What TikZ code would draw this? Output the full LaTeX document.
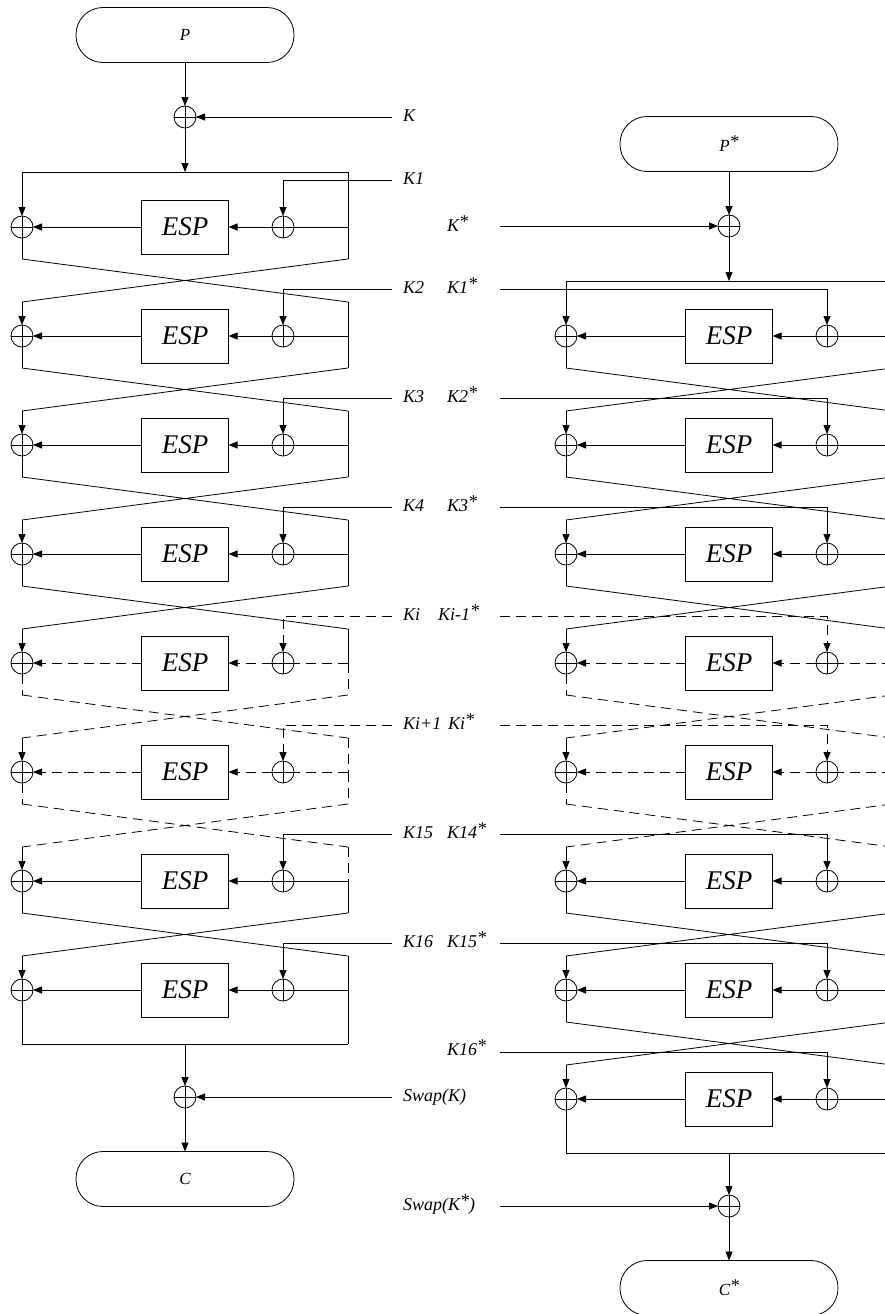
\documentclass[tikz,border=0pt]{standalone}
\usepackage{fontspec}
\setmainfont{Liberation Serif}
\usetikzlibrary{arrows.meta}
\newcommand{\st}{\raisebox{4pt}{\fontsize{18}{18}\selectfont *}}
\tikzset{
  ln/.style={line width=0.8pt},
  arr/.style={line width=0.8pt,-{Triangle[length=9pt,width=7pt]}},
  dsh/.style={dash pattern=on 10pt off 6pt},
  xor/.style={circle,draw,line width=0.8pt,minimum size=22pt,inner sep=0pt,outer sep=0pt,
    path picture={\draw[line width=0.8pt] (path picture bounding box.north)--(path picture bounding box.south)
      (path picture bounding box.west)--(path picture bounding box.east);}},
  espbox/.style={draw,line width=0.8pt,minimum width=87pt,minimum height=54pt,inner sep=0pt,outer sep=0pt,
    font=\fontsize{27}{30}\selectfont\itshape},
  term/.style={draw,line width=0.8pt,rounded corners=27pt,minimum width=218pt,minimum height=55pt,
    inner sep=0pt,outer sep=0pt,font=\fontsize{17}{20}\selectfont\itshape},
  lab/.style={anchor=base west,inner sep=0pt,font=\fontsize{18}{20}\selectfont\itshape},
}
\newcommand{\drawcol}[7]{%
\begin{scope}[shift={(#2,#3)}]
  \node[term] (#1P) at (185,35) {#6};
  \node[xor] (#1x) at (185,117) {};
  \coordinate (#1kk) at (#5,117);
  \coordinate (#1t) at (185,172);
  \draw[arr] (#1P) -- (#1x);
  \draw[arr] (#1x) -- (#1t);
  \draw[arr] (#1kk) -- (#1x);
  \foreach \kk in {0,...,7}{
    \pgfmathsetmacro{\yc}{227+109*\kk}
    \pgfmathsetmacro{\yt}{\kk==0 ? 172 : 193+109*\kk}
    \pgfmathsetmacro{\yb}{\kk==7 ? 281+109*\kk : 259+109*\kk}
    \pgfmathsetmacro{\yk}{180+109*\kk}
    \pgfmathtruncatemacro{\rr}{\kk-#4}
    \tikzset{sTR/.style={},sM/.style={},sK/.style={}}
    \ifnum\rr=0 \tikzset{sM/.style={dsh},sK/.style={dsh}}\fi
    \ifnum\rr=1 \tikzset{sTR/.style={dsh},sM/.style={dsh},sK/.style={dsh}}\fi
    \ifnum\rr=2 \tikzset{sTR/.style={dsh}}\fi
    \node[espbox] (#1e\kk) at (185,\yc) {ESP};
    \node[xor] (#1l\kk) at (22,\yc) {};
    \node[xor] (#1r\kk) at (283,\yc) {};
    \coordinate (#1a\kk) at (22,\yt);
    \coordinate (#1b\kk) at (348,\yt);
    \coordinate (#1m\kk) at (348,\yc);
    \coordinate (#1c\kk) at (22,\yb);
    \coordinate (#1d\kk) at (348,\yb);
    \coordinate (#1k\kk) at (#5,\yk);
    \coordinate (#1j\kk) at (283,\yk);
    \draw[arr] (#1a\kk) -- (#1l\kk);
    \draw[ln,sTR] (#1b\kk) -- (#1m\kk);
    \draw[ln,sM] (#1m\kk) -- (#1r\kk);
    \draw[arr,sM] (#1r\kk) -- (#1e\kk);
    \draw[arr,sM] (#1e\kk) -- (#1l\kk);
    \draw[ln,sM] (#1l\kk) -- (#1c\kk);
    \draw[ln,sM] (#1m\kk) -- (#1d\kk);
    \draw[arr,sK] (#1k\kk) -- (#1j\kk) -- (#1r\kk);
  }
  \foreach \kk in {0,...,6}{
    \pgfmathtruncatemacro{\nn}{\kk+1}
    \pgfmathtruncatemacro{\rr}{\kk-#4}
    \tikzset{sC/.style={}}
    \ifnum\rr=0 \tikzset{sC/.style={dsh}}\fi
    \ifnum\rr=1 \tikzset{sC/.style={dsh}}\fi
    \draw[ln,sC] (#1c\kk) -- (#1b\nn) (#1d\kk) -- (#1a\nn);
  }
  \draw[ln] (#1a0) -- (#1b0);
  \draw[ln] (#1c7) -- (#1d7);
  \coordinate (#1u) at (185,1044);
  \node[xor] (#1y) at (185,1097) {};
  \coordinate (#1s) at (#5,1097);
  \node[term] (#1C) at (185,1179) {#7};
  \draw[arr] (#1u) -- (#1y);
  \draw[arr] (#1s) -- (#1y);
  \draw[arr] (#1y) -- (#1C);
\end{scope}}
\begin{document}
\begin{tikzpicture}[x=1pt,y=-1pt]
\useasboundingbox (0,0) rectangle (884,1314);
\drawcol{L}{0}{0}{4}{392}{P}{C}
\drawcol{R}{544}{109}{3}{-44}{P\st}{C\st}
% left labels
\node[lab] (lK) at (403,121.5) {K};
\node[lab] (lK1) at (403,184.5) {K1};
\node[lab] (lK2) at (403,293.5) {K2};
\node[lab] (lK3) at (403,402.5) {K3};
\node[lab] (lK4) at (403,511.5) {K4};
\node[lab] (lKi) at (403,620.5) {Ki};
\node[lab] (lKii) at (403,729.5) {Ki+1};
\node[lab] (lK15) at (403,838.5) {K15};
\node[lab] (lK16) at (403,947.5) {K16};
\node[lab] (lSw) at (403,1101.5) {Swap(K)};
% right labels
\node[lab] (rK) at (447,231.5) {K\st};
\node[lab] (rK1) at (447,293.5) {K1\st};
\node[lab] (rK2) at (447,402.5) {K2\st};
\node[lab] (rK3) at (447,511.5) {K3\st};
\node[lab] (rKi) at (438,620.5) {Ki-1\st};
\node[lab] (rKii) at (448,729.5) {Ki\st};
\node[lab] (rK14) at (447,838.5) {K14\st};
\node[lab] (rK15) at (447,947.5) {K15\st};
\node[lab] (rK16) at (447,1055.5) {K16\st};
\node[lab] (rSw) at (403,1210.5) {Swap(K\st)};
\end{tikzpicture}
\end{document}
